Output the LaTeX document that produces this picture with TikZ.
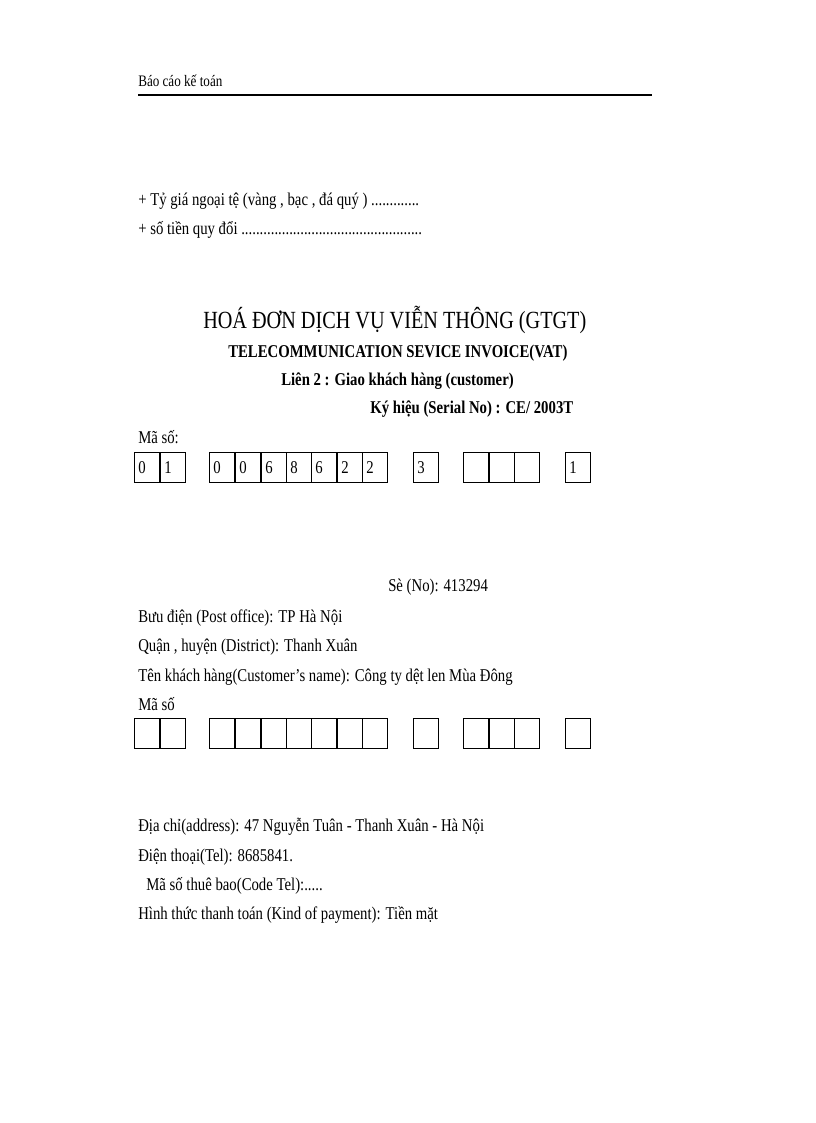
\documentclass[tikz,border=0pt]{standalone}
\usepackage{fontspec}
\setmainfont{Liberation Serif}[FakeStretch=0.82]
\begin{document}
\begin{tikzpicture}[x=0.75pt,y=-0.75pt,
  txt/.style={anchor=base west,inner sep=0pt,font=\fontsize{13.5}{15}\selectfont},
  sm/.style={anchor=base west,inner sep=0pt,font=\fontsize{12}{13}\selectfont},
  cell/.style={draw,line width=0.7pt,minimum width=25.3*0.75pt,minimum height=30*0.75pt,inner sep=0pt,anchor=north west,font=\fontsize{13.5}{15}\selectfont}]
\useasboundingbox (0,0) rectangle (816,1123);
\node[sm] (hdr) at (138,87) {Báo cáo kế toán};
\coordinate (l1) at (138,95); \coordinate (l2) at (652,95);
\draw[line width=0.8pt] (l1) -- (l2);
\node[txt] (t1) at (138,205) {+ Tỷ giá ngoại tệ (vàng , bạc , đá quý ) .............};
\node[txt] (t2) at (138,234) {+ số tiền quy đổi .................................................};
\node[anchor=base west,inner sep=0pt,font=\fontsize{18.5}{21}\selectfont] (title) at (203,328) {HOÁ ĐƠN DỊCH VỤ VIỄN THÔNG (GTGT)};
\node[txt,font=\fontsize{13.5}{15}\bfseries] (sub) at (228,357) {TELECOMMUNICATION SEVICE INVOICE(VAT)};
\node[txt,font=\fontsize{13.5}{15}\bfseries] (lien) at (281,385) {Liên 2 : Giao khách hàng (customer)};
\node[txt,font=\fontsize{13.5}{15}\bfseries] (kh) at (370,413) {Ký hiệu (Serial No) : CE/ 2003T};
\node[txt] (ms1) at (138,443) {Mã số:};
\foreach \x/\v [count=\i] in {134/0,160/1,209/0,235/0,261/6,286/8,311/6,337/2,362/2,413/3,463/,489/,514/,565/1}{
  \node[cell] (a\i) at (\x,452) {};
  \node[anchor=west,inner sep=0pt,font=\fontsize{13.5}{15}\selectfont] (d\i) at ([xshift=3pt]a\i.west) {\v};
  \node[cell] (b\i) at (\x,718) {};
}
\node[txt] (so) at (388,591) {Sè (No): 413294};
\node[txt] (bd) at (138,622) {Bưu điện (Post office): TP Hà Nội};
\node[txt] (qh) at (138,651) {Quận , huyện (District): Thanh Xuân};
\node[txt] (ten) at (138,681) {Tên khách hàng(Customer’s name):  Công ty dệt len Mùa Đông};
\node[txt] (ms2) at (138,710) {Mã số};
\node[txt] (dc) at (138,831) {Địa chỉ(address): 47 Nguyễn Tuân - Thanh Xuân - Hà Nội};
\node[txt] (dt) at (138,861) {Điện thoại(Tel):  8685841.};
\node[txt] (tb) at (146,890) {Mã số thuê bao(Code Tel):.....};
\node[txt] (ht) at (138,919) {Hình thức thanh toán (Kind of payment): Tiền mặt};
\end{tikzpicture}
\end{document}
